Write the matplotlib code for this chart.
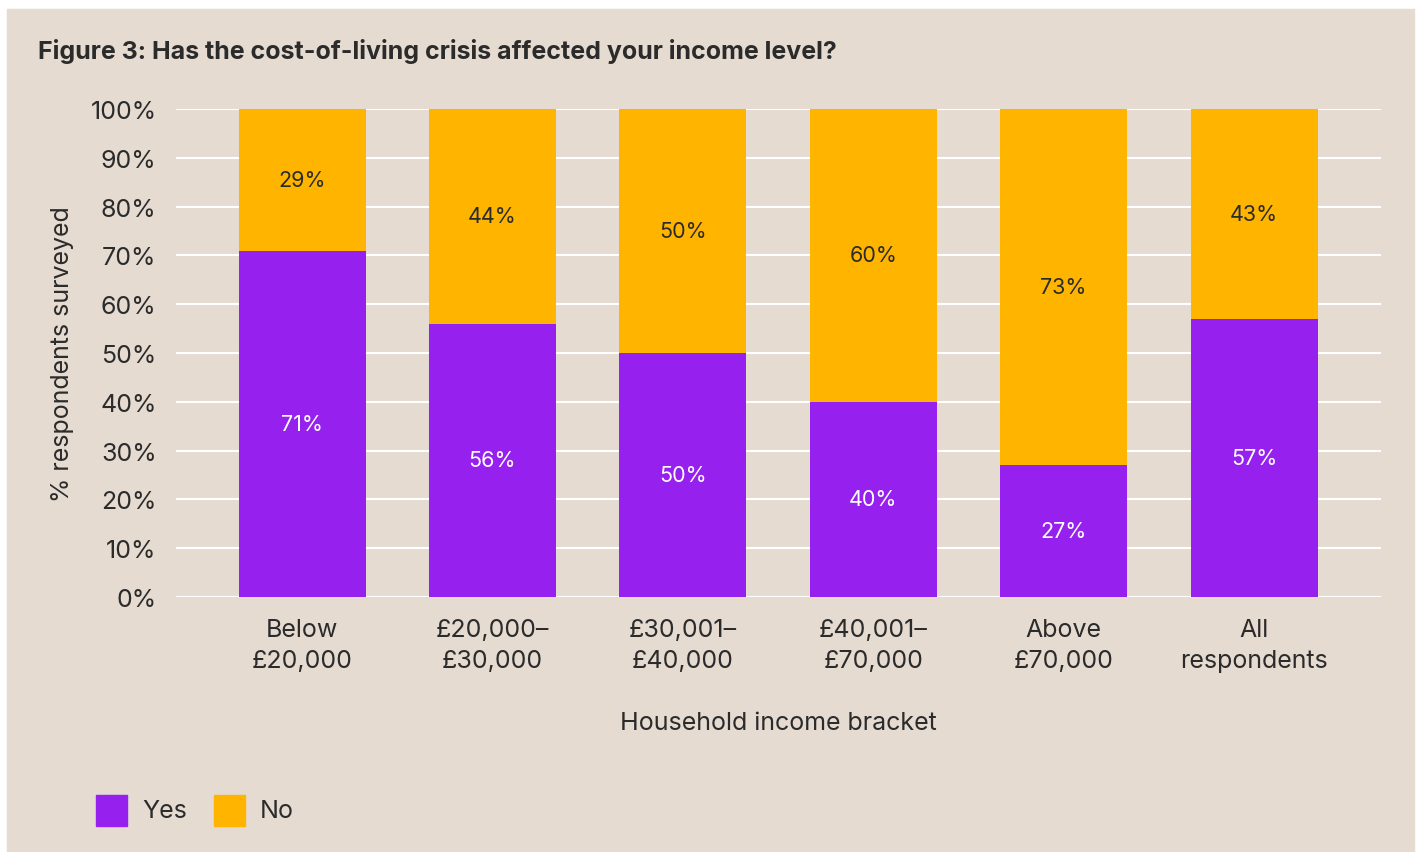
import matplotlib.pyplot as plt
import matplotlib.patches as mpatches
import numpy as np

plt.rcParams['font.family'] = ['Inter', 'DejaVu Sans']

# data
brackets = ['Below\n£20,000', '£20,000–\n£30,000', '£30,001–\n£40,000',
            '£40,001–\n£70,000', 'Above\n£70,000', 'All\nrespondents']
yes = [71, 56, 50, 40, 27, 57]
no = [29, 44, 50, 60, 73, 43]
series = ['Yes', 'No']

bg = '#e5dbd1'
purple = '#9620ee'
orange = '#ffb400'
txt = '#2b2b2b'

fig = plt.figure(figsize=(14.18, 8.53), dpi=100)
fig.patch.set_facecolor('white')
# beige panel
fig.add_artist(mpatches.Rectangle((7 / 1418, -0.01), 1407 / 1418, 843 / 853 + 0.01,
                                  transform=fig.transFigure, color=bg, zorder=0))

ax = fig.add_axes([176 / 1418, 255 / 853, 1205 / 1418, 488 / 853])
ax.set_facecolor(bg)
ax.patch.set_alpha(0)

x = np.arange(len(brackets))
ax.bar(x, yes, width=0.667, color=purple, zorder=3)
ax.bar(x, no, width=0.667, bottom=yes, color=orange, zorder=3)

for i in range(len(x)):
    ax.text(x[i], yes[i] / 2, '%d%%' % yes[i], ha='center', va='center',
            color='white', fontsize=15.5, zorder=4)
    ax.text(x[i], yes[i] + no[i] / 2, '%d%%' % no[i], ha='center', va='center',
            color=txt, fontsize=15.5, zorder=4)

ax.set_xlim(-0.662, 5.667)
ax.set_ylim(0, 100)
ax.set_yticks(range(0, 101, 10))
ax.set_yticklabels(['%d%%' % v for v in range(0, 101, 10)])
ax.yaxis.grid(True, color='white', linewidth=1.5, zorder=1)
ax.set_axisbelow(True)
ax.set_xticks(x)
ax.set_xticklabels(brackets, linespacing=1.45)
ax.tick_params(axis='both', length=0, labelsize=18, colors=txt)
ax.tick_params(axis='y', pad=14)
ax.tick_params(axis='x', pad=15)
for s in ax.spines.values():
    s.set_visible(False)

ax.set_ylabel('% respondents surveyed', fontsize=18, color=txt, labelpad=12)
ax.set_xlabel('Household income bracket', fontsize=18, color=txt, labelpad=28)

fig.text(38 / 1418, 1 - 51 / 853, 'Figure 3: Has the cost-of-living crisis affected your income level?',
         fontsize=18, fontweight='bold', color=txt, ha='left', va='center')

# legend: squares and labels
for lab, col, x0 in zip(series, [purple, orange], [96, 214]):
    fig.add_artist(mpatches.Rectangle((x0 / 1418, 1 - 827 / 853), 31 / 1418, 31 / 853,
                                      transform=fig.transFigure, color=col))
    fig.text((x0 + 46) / 1418, 1 - 812 / 853, lab, fontsize=18, color=txt,
             ha='left', va='center')

plt.savefig('out.png', dpi=100, facecolor=fig.get_facecolor())
